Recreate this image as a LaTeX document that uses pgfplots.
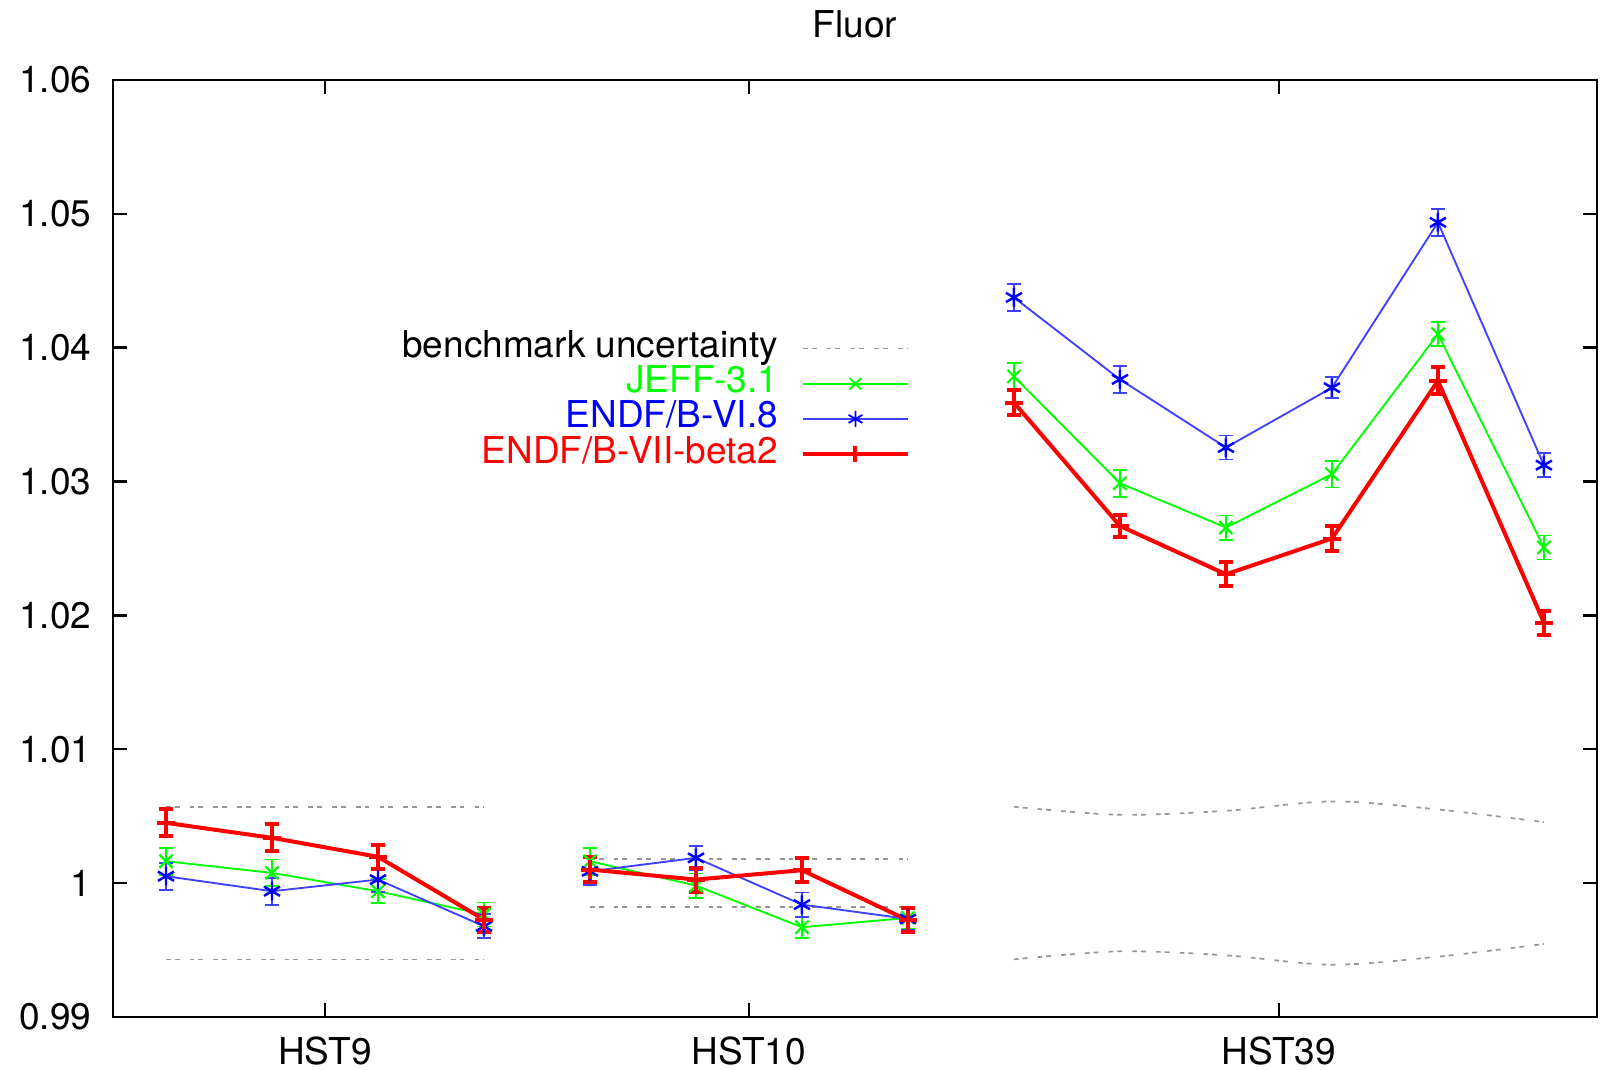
\documentclass[border=0pt]{standalone}
\usepackage{fontspec}
\setmainfont{TeX Gyre Heros}
\usepackage{pgfplots}
\usepackage{pgfplotstable}
\pgfplotsset{compat=1.18}
\usetikzlibrary{calc}
\definecolor{gpgreen}{RGB}{0,255,0}
\definecolor{gpblue}{RGB}{0,0,255}
\definecolor{gpred}{RGB}{255,0,0}
\definecolor{gpgray}{RGB}{150,150,150}

\pgfplotstableread{
x  jeff    jeffe   endfsix  endfsixe  endfseven endfsevene up      lo
1  1.00163 0.0010  1.00051  0.0010    1.00450   0.0010     1.0057  0.9943
2  1.00076 0.0010  0.99939  0.0010    1.00338   0.0010     1.0057  0.9943
3  0.99939 0.0009  1.00026  0.0009    1.00196   0.0009     1.0057  0.9943
4  0.99765 0.0009  0.99677  0.0009    0.99727   0.0009     1.0057  0.9943
}\hstnine

\pgfplotstableread{
x  jeff    jeffe   endfsix  endfsixe  endfseven endfsevene up      lo
5  1.00163 0.0010  1.00088  0.0010    1.00101   0.0009     1.0018  0.9982
6  0.99981 0.0009  1.00188  0.0009    1.00026   0.0009     1.0018  0.9982
7  0.99670 0.0008  0.99839  0.0009    1.00096   0.0009     1.0018  0.9982
8  0.99740 0.0008  0.99732  0.0008    0.99722   0.0009     1.0018  0.9982
}\hstten

\pgfplotstableread{
x   jeff    jeffe   endfsix  endfsixe  endfseven endfsevene up       lo
9   1.03785 0.0010  1.04375  0.0010    1.03590   0.0009     1.00570  0.99430
10  1.02987 0.0010  1.03763  0.0010    1.02668   0.0008     1.00510  0.99490
11  1.02656 0.0009  1.03254  0.0009    1.02307   0.0009     1.00540  0.99460
12  1.03055 0.0010  1.03701  0.0008    1.02574   0.0009     1.00610  0.99390
13  1.04101 0.0009  1.04936  0.0010    1.03752   0.0010     1.00550  0.99450
14  1.02507 0.0009  1.03122  0.0009    1.01946   0.0009     1.00455  0.99545
}\hstthirtynine

\pgfplotsset{
  bench/.style={gpgray, line width=0.55pt, dash pattern=on 1.5pt off 1.3pt on 1.6pt off 3.3pt, no marks, forget plot},
  jeffstyle/.style={gpgreen, line width=0.6pt, mark=x, mark size=3pt, mark options={solid, line width=0.7pt}, forget plot,
    error bars/.cd, y dir=both, y explicit,
    error bar style={line width=0.6pt},
    error mark options={rotate=90, mark size=2.3pt, line width=0.6pt}},
  sixstyle/.style={gpblue!75, line width=0.6pt, mark=asterisk, mark size=3pt, mark options={solid, gpblue, line width=0.8pt}, forget plot,
    error bars/.cd, y dir=both, y explicit,
    error bar style={line width=0.6pt},
    error mark options={rotate=90, mark size=2.3pt, line width=0.6pt}},
  sevenstyle/.style={gpred, line width=1.3pt, mark=+, mark size=3pt, mark options={solid}, forget plot,
    error bars/.cd, y dir=both, y explicit,
    error bar style={line width=1.3pt},
    error mark options={rotate=90, mark size=2.3pt, line width=1.3pt}},
}

\begin{document}
\begin{tikzpicture}[font=\fontsize{12}{14.4}\selectfont]
\begin{axis}[
  scale only axis,
  width=481.3pt, height=303.9pt,
  xmin=0.5, xmax=14.5, ymin=0.99, ymax=1.06,
  xtick={2.5,6.5,11.5}, xticklabels={HST9,HST10,HST39},
  ytick={0.99,1,1.01,1.02,1.03,1.04,1.05,1.06},
  tick align=inside, major tick length=4.5pt,
  tick style={black, line width=0.8pt},
  axis line style={black, line width=0.9pt},
  /pgf/number format/assume math mode=true,
  yticklabel style={/pgf/number format/fixed, /pgf/number format/precision=2, xshift=-3.5pt},
  xticklabel style={yshift=-3pt},
  title={Fluor}, title style={yshift=4pt},
  legend cell align=right, legend plot pos=right,
  legend style={draw=none, fill=none, at={(0.537,0.732)}, anchor=north east,
    inner sep=0pt, outer sep=0pt, row sep=0pt, column sep=7.5pt,
    nodes={inner sep=0pt, text height=8.6pt, text depth=2.8pt}},
  legend image code/.code={\draw[mark repeat=2,mark phase=2] plot coordinates {(0pt,0pt) (17pt,0pt) (34pt,0pt)};},
]
\addlegendimage{gpgray, line width=0.55pt, dash pattern=on 1.5pt off 1.3pt on 1.6pt off 3.3pt}
\addlegendentry{benchmark uncertainty}
\addlegendimage{gpgreen, line width=0.6pt, mark=x, mark size=2.6pt, mark options={solid}}
\addlegendentry{\textcolor{gpgreen}{JEFF-3.1}}
\addlegendimage{gpblue!75, line width=0.6pt, mark=asterisk, mark size=2.6pt, mark options={solid, gpblue}}
\addlegendentry{\textcolor{gpblue}{ENDF/B-VI.8}}
\addlegendimage{gpred, line width=1.3pt, mark=+, mark size=2.6pt, mark options={solid}}
\addlegendentry{\textcolor{gpred}{ENDF/B-VII-beta2}}

% benchmark uncertainty
\addplot[bench] table[x=x, y=up] {\hstnine};
\addplot[bench] table[x=x, y=lo] {\hstnine};
\addplot[bench] table[x=x, y=up] {\hstten};
\addplot[bench] table[x=x, y=lo] {\hstten};
\addplot[bench, smooth] table[x=x, y=up] {\hstthirtynine};
\addplot[bench, smooth] table[x=x, y=lo] {\hstthirtynine};

% JEFF-3.1
\addplot[jeffstyle] table[x=x, y=jeff, y error=jeffe] {\hstnine};
\addplot[jeffstyle] table[x=x, y=jeff, y error=jeffe] {\hstten};
\addplot[jeffstyle] table[x=x, y=jeff, y error=jeffe] {\hstthirtynine};
% ENDF/B-VI.8
\addplot[sixstyle] table[x=x, y=endfsix, y error=endfsixe] {\hstnine};
\addplot[sixstyle] table[x=x, y=endfsix, y error=endfsixe] {\hstten};
\addplot[sixstyle] table[x=x, y=endfsix, y error=endfsixe] {\hstthirtynine};
% ENDF/B-VII-beta2
\addplot[sevenstyle] table[x=x, y=endfseven, y error=endfsevene] {\hstnine};
\addplot[sevenstyle] table[x=x, y=endfseven, y error=endfsevene] {\hstten};
\addplot[sevenstyle] table[x=x, y=endfseven, y error=endfsevene] {\hstthirtynine};
\end{axis}
\pgfresetboundingbox
\path ($(current axis.south west)+(-36.65pt,-17.19pt)$) rectangle ($(current axis.north east)+(1pt,25.94pt)$);
\end{tikzpicture}
\end{document}
